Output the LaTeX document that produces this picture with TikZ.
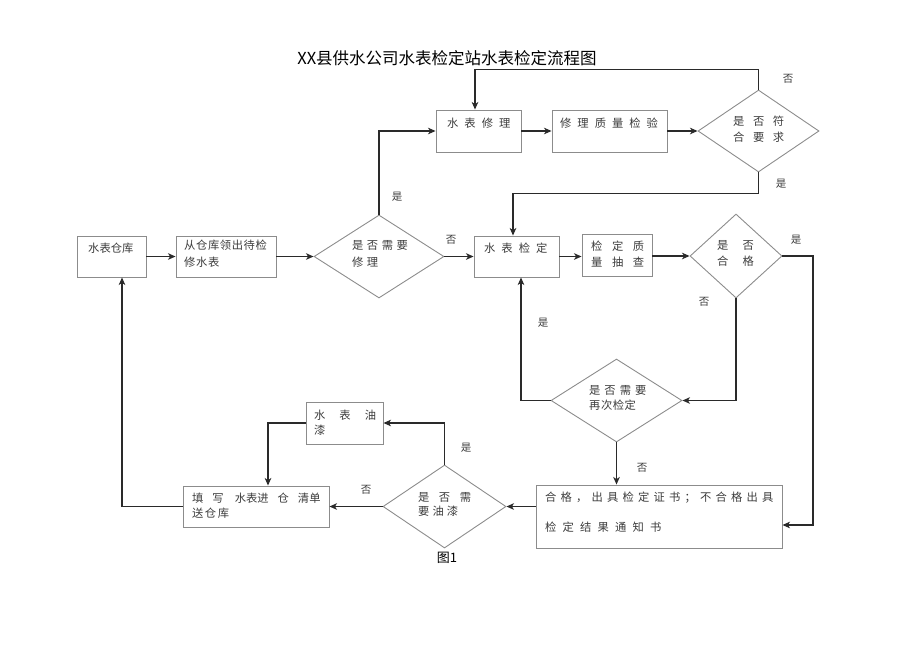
\documentclass[tikz,border=0pt]{standalone}
\usepackage{fontspec}
\setmainfont{Noto Sans CJK SC}
\usetikzlibrary{shapes.geometric,arrows.meta,calc}
\makeatletter
\newcommand\spaced[2]{\def\spgap{\hspace{#1}}\spacedloop#2\relax}
\def\spacedloop#1#2{#1\ifx\relax#2\expandafter\@gobble\else\spgap\expandafter\@firstofone\fi{\spacedloop#2}}
\makeatother
\definecolor{boxc}{HTML}{8C8C8C}
\definecolor{linec}{HTML}{2A2A2A}
\definecolor{txtc}{HTML}{3C3C3C}
\tikzset{
  box/.style={draw=boxc,line width=0.9pt,rectangle,inner sep=0pt},
  dia/.style={draw=boxc,line width=0.9pt,diamond,inner sep=0pt},
  txt/.style={anchor=west,inner sep=0pt,font=\fontsize{11.3}{11.3}\selectfont,text=txtc},
  lab/.style={inner sep=0pt,font=\fontsize{10.5}{10.5}\selectfont,text=txtc},
  conn/.style={draw=linec,line width=1.4pt},
  arr/.style={conn,-{Stealth[length=7.5pt,width=6.5pt,inset=2pt]}}
}
\begin{document}
\begin{tikzpicture}[x=1pt,y=-1pt]
\useasboundingbox (0,0) rectangle (920,651);
% title
\node[inner sep=0pt,font=\fontsize{16.5}{16.5}\selectfont,text=black] (title) at (447,58) {XX县供水公司水表检定站水表检定流程图};
\node[inner sep=0pt,font=\fontsize{13}{13}\selectfont,text=black] (fig) at (447,558) {图1};
% boxes
\node[box,minimum width=69pt,minimum height=41pt] (wh) at (111.5,256.5) {};
\node[box,minimum width=100pt,minimum height=41pt] (ling) at (226,256.5) {};
\node[dia,minimum width=130pt,minimum height=83pt] (d1) at (379,256.5) {};
\node[box,minimum width=85pt,minimum height=42pt] (xiuli) at (478.5,131) {};
\node[box,minimum width=115pt,minimum height=42pt] (zljy) at (609.5,131) {};
\node[dia,minimum width=121pt,minimum height=82pt] (d2) at (758.5,131) {};
\node[box,minimum width=85pt,minimum height=41pt] (jd) at (516.5,256.5) {};
\node[box,minimum width=70pt,minimum height=42pt] (cc) at (617,255) {};
\node[dia,minimum width=92pt,minimum height=84pt] (d3) at (736,256) {};
\node[dia,minimum width=131pt,minimum height=83pt] (d4) at (616.5,400.5) {};
\node[box,minimum width=246pt,minimum height=63pt] (res) at (659,516.5) {};
\node[dia,minimum width=123pt,minimum height=83pt] (d5) at (444.5,506.5) {};
\node[box,minimum width=77pt,minimum height=42pt] (yq) at (344.5,423) {};
\node[box,minimum width=146pt,minimum height=41pt] (tx) at (256,506.5) {};
% texts
\node[txt] (t1) at (88,248) {水表仓库};
\node[txt] (t2a) at (184,245) {\spaced{0.6pt}{从仓库领出待检}};
\node[txt] (t2b) at (184,262) {\spaced{0.6pt}{修水表}};
\node[txt] (t3a) at (352,245) {\spaced{3.5pt}{是否需要}};
\node[txt] (t3b) at (352,262) {\spaced{3.5pt}{修理}};
\node[txt] (t4) at (447,123) {\spaced{6pt}{水表修理}};
\node[txt] (t5) at (560,123) {\spaced{6pt}{修理质量检验}};
\node[txt] (t6a) at (733,121) {\spaced{8.5pt}{是否符}};
\node[txt] (t6b) at (733,137) {\spaced{8.5pt}{合要求}};
\node[txt] (t7) at (484,248) {\spaced{6pt}{水表检定}};
\node[txt] (t8a) at (591,246) {\spaced{9.5pt}{检定质}};
\node[txt] (t8b) at (591,262) {\spaced{9.5pt}{量抽查}};
\node[txt] (t9a) at (717,245) {\spaced{14pt}{是否}};
\node[txt] (t9b) at (717,261) {\spaced{14pt}{合格}};
\node[txt] (t10a) at (589,390) {\spaced{4pt}{是否需要}};
\node[txt] (t10b) at (589,405) {\spaced{0.5pt}{再次检定}};
\node[txt] (t11a) at (545,498) {\spaced{4.2pt}{合格，出具检定证书；不合格出具}};
\node[txt] (t11b) at (545,527) {\spaced{6.2pt}{检定结果通知书}};
\node[txt] (t12a) at (418,497) {\spaced{9.5pt}{是否需}};
\node[txt] (t12b) at (418,511) {\spaced{3pt}{要油漆}};
\node[txt] (t13a) at (314,415) {\spaced{14pt}{水表油}};
\node[txt] (t13b) at (314,430) {漆};
\node[txt] (t14a) at (192,498) {填\hspace{9pt}写\hspace{11pt}水表进\hspace{9pt}仓\hspace{9pt}清单};
\node[txt] (t14b) at (192,513) {\spaced{1.5pt}{送仓库}};
% connectors
\draw[arr] (wh.east) -- (ling.west);
\draw[arr] (ling.east) -- (d1.west);
\draw[arr] (d1.east) -- (jd.west);
\draw[arr] (d1.north) |- (xiuli.west);
\draw[arr] (xiuli.east) -- (zljy.west);
\draw[arr] (zljy.east) -- (d2.west);
\draw[arr] (d2.north) -- ++(0,-20) -| ([xshift=-3.5pt]xiuli.north);
\draw[arr] (d2.south) -- ++(0,21) -| ([xshift=-3.5pt]jd.north);
\draw[arr] (jd.east) -- (jd.east -| cc.west);
\draw[arr] (cc.east |- d3.west) -- (d3.west);
\draw[arr] (d3.east) -- (813,256) -- (813,525) -- ([yshift=-8.5pt]res.east);
\draw[arr] (d3.south) |- (d4.east);
\draw[arr] (d4.west) -| ([xshift=4.5pt]jd.south);
\draw[arr] (d4.south) -- (d4.south |- res.north);
\draw[arr] (res.west |- d5.east) -- (d5.east);
\draw[arr] (d5.north) |- (yq.east);
\draw[arr] (d5.west) -- (tx.east);
\draw[arr] (yq.west) -| ([xshift=12pt]tx.north);
\draw[arr] (tx.west) -| ([xshift=10.5pt]wh.south);
% labels
\node[lab] (l1) at (397,197) {是};
\node[lab] (l2) at (451,240) {否};
\node[lab] (l3) at (788,79) {否};
\node[lab] (l4) at (781,184) {是};
\node[lab] (l5) at (796,240) {是};
\node[lab] (l6) at (704,302) {否};
\node[lab] (l7) at (543,323) {是};
\node[lab] (l8) at (642,468) {否};
\node[lab] (l9) at (466,448) {是};
\node[lab] (l10) at (366,490) {否};
\end{tikzpicture}
\end{document}
